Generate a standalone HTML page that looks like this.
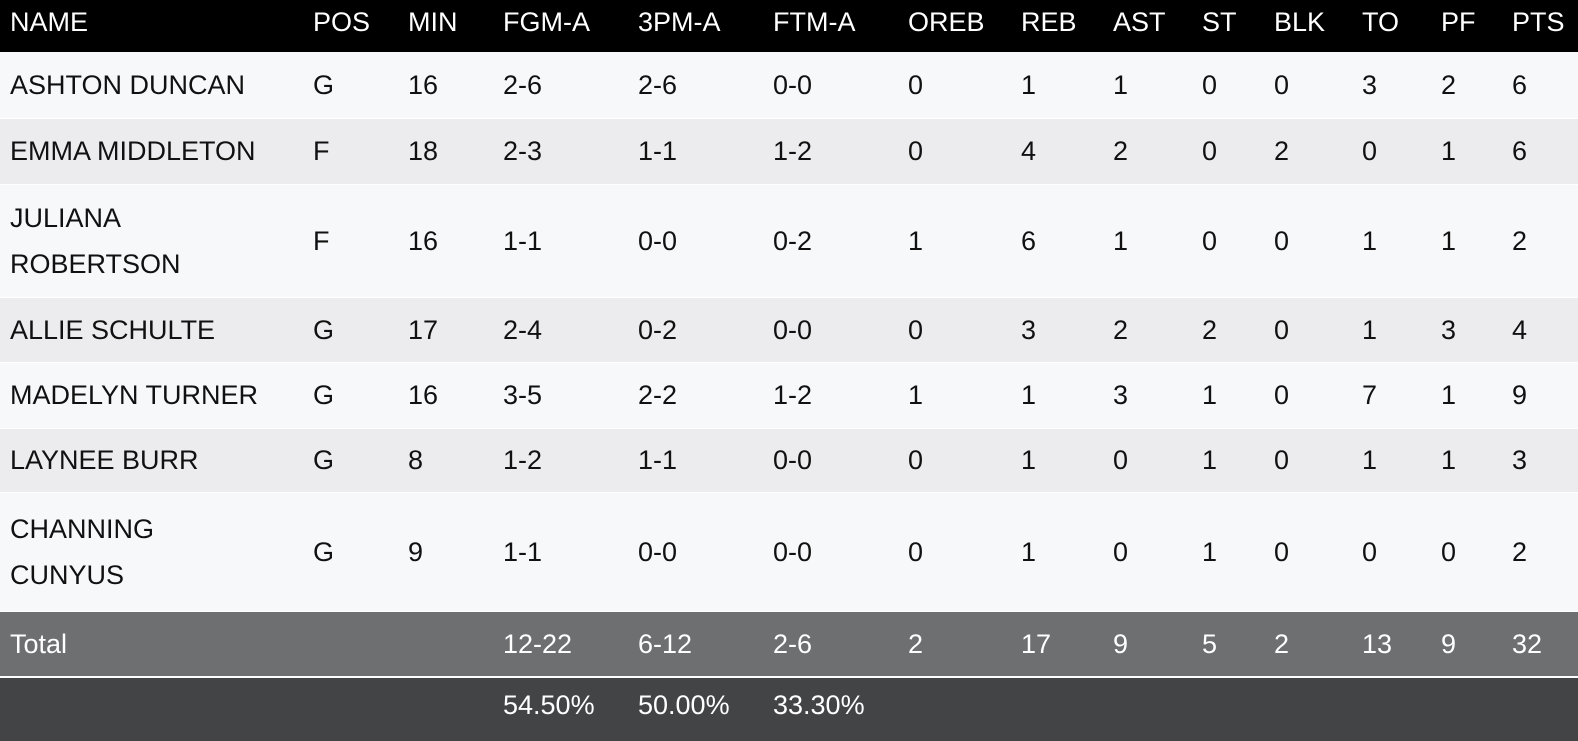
<!DOCTYPE html>
<html><head><meta charset="utf-8"><style>
body{margin:0;width:1578px;height:732px;background:#fff;font-family:"Liberation Sans","DejaVu Sans",sans-serif;font-size:27px;color:#111;position:relative;overflow:hidden}
.r{position:absolute;left:0;width:1578px}
.t{position:absolute;white-space:nowrap;height:40px;line-height:40px;margin-top:-20px}
</style></head><body>
<div id="c"></div>
<script>
const cols=[10,313,408,503,638,773,908,1021,1113,1202,1274,1362,1441,1512];
const rows=[
 [0,51,"#000","#fff",["NAME","POS","MIN","FGM-A","3PM-A","FTM-A","OREB","REB","AST","ST","BLK","TO","PF","PTS"]],
 [52,117,"#f7f8fa","#111",["ASHTON DUNCAN","G","16","2-6","2-6","0-0","0","1","1","0","0","3","2","6"]],
 [119,183,"#ececee","#111",["EMMA MIDDLETON","F","18","2-3","1-1","1-2","0","4","2","0","2","0","1","6"]],
 [185,296,"#f7f8fa","#111",["JULIANA|ROBERTSON","F","16","1-1","0-0","0-2","1","6","1","0","0","1","1","2"]],
 [298,361,"#ececee","#111",["ALLIE SCHULTE","G","17","2-4","0-2","0-0","0","3","2","2","0","1","3","4"]],
 [363,427,"#f7f8fa","#111",["MADELYN TURNER","G","16","3-5","2-2","1-2","1","1","3","1","0","7","1","9"]],
 [429,491,"#ececee","#111",["LAYNEE BURR","G","8","1-2","1-1","0-0","0","1","0","1","0","1","1","3"]],
 [493,610,"#f7f8fa","#111",["CHANNING|CUNYUS","G","9","1-1","0-0","0-0","0","1","0","1","0","0","0","2"]],
 [612,675,"#6e6f71","#fff",["Total","","","12-22","6-12","2-6","2","17","9","5","2","13","9","32"]],
 [678,740,"#434446","#fff",["","","","54.50%","50.00%","33.30%","","","","","","","",""]]
];
let h="";
rows.forEach((r,i)=>{
 let [a,b,bg,fg,cells]=r;
 let cy=i==0?22:(i==9?705:(a+b)/2);
 h+=`<div class="r" style="top:${a}px;height:${b-a+1}px;background:${bg}"></div>`;
 cells.forEach((t,j)=>{
  if(!t) return;
  if(t.includes("|")){
   const [l1,l2]=t.split("|");
   h+=`<div class="t" style="left:${cols[j]}px;top:${cy-23}px;color:${fg}">${l1}</div>`;
   h+=`<div class="t" style="left:${cols[j]}px;top:${cy+23}px;color:${fg}">${l2}</div>`;
  } else h+=`<div class="t" style="left:${cols[j]}px;top:${cy}px;color:${fg}">${t}</div>`;
 });
});
document.getElementById("c").innerHTML=h;
</script>
</body></html>
